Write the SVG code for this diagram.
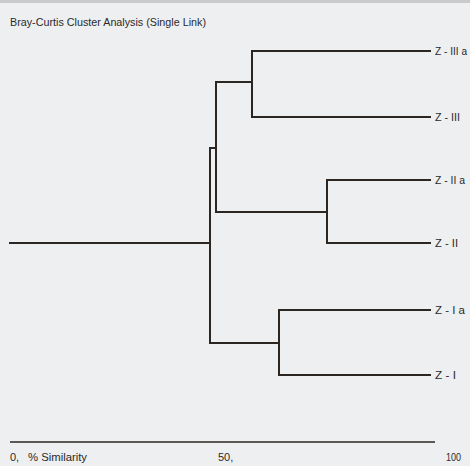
<svg xmlns="http://www.w3.org/2000/svg" width="470" height="466" viewBox="0 0 470 466">
<style>
.t{font-family:"Liberation Sans",Arial,sans-serif;font-size:11px;fill:#2a2a2a}
.lab{font-family:"Liberation Sans",Arial,sans-serif;font-size:11px;fill:#2a2a2a}
.c{fill:none;stroke:#2b2622;stroke-width:2;stroke-linecap:square}
</style>
<rect x="0" y="0" width="470" height="466" fill="#eeeff1"/>
<rect x="0" y="0" width="470" height="3" fill="#c9cacc"/>
<text class="t" x="10" y="26" textLength="196" lengthAdjust="spacingAndGlyphs">Bray-Curtis Cluster Analysis (Single Link)</text>
<g id="connectors">
<path class="c" d="M252,51 H430 M252,117 H430 M252,51 V117 M216,82 H252 M216,82 V212 M216,212 H327"/>
<path class="c" d="M327,180 H430 M327,243 H430 M327,180 V243"/>
<path class="c" d="M279,310 H430 M279,375 H430 M279,310 V375 M210,343 H279"/>
<path class="c" d="M210,148 H216 M210,148 V343 M10,243 H210"/>
</g>
<g id="n-ZIIIa"><text class="lab" x="435" y="55" textLength="32" lengthAdjust="spacingAndGlyphs">Z - III a</text></g>
<g id="n-ZIII"><text class="lab" x="435" y="121" textLength="25" lengthAdjust="spacingAndGlyphs">Z - III</text></g>
<g id="n-ZIIa"><text class="lab" x="435" y="184" textLength="30" lengthAdjust="spacingAndGlyphs">Z - II a</text></g>
<g id="n-ZII"><text class="lab" x="435" y="247" textLength="23" lengthAdjust="spacingAndGlyphs">Z - II</text></g>
<g id="n-ZIa"><text class="lab" x="435" y="314" textLength="30" lengthAdjust="spacingAndGlyphs">Z - I a</text></g>
<g id="n-ZI"><text class="lab" x="435" y="379" textLength="21" lengthAdjust="spacingAndGlyphs">Z - I</text></g>
<g id="axis">
<path d="M10,442 H435" stroke="#2b2622" stroke-width="1.5" fill="none"/>
<text class="t" x="10" y="461">0,</text>
<text class="t" x="28" y="461" textLength="59" lengthAdjust="spacingAndGlyphs">% Similarity</text>
<text class="t" x="218" y="461">50,</text>
<text class="t" x="446" y="461" textLength="15" lengthAdjust="spacingAndGlyphs">100</text>
</g>
</svg>
